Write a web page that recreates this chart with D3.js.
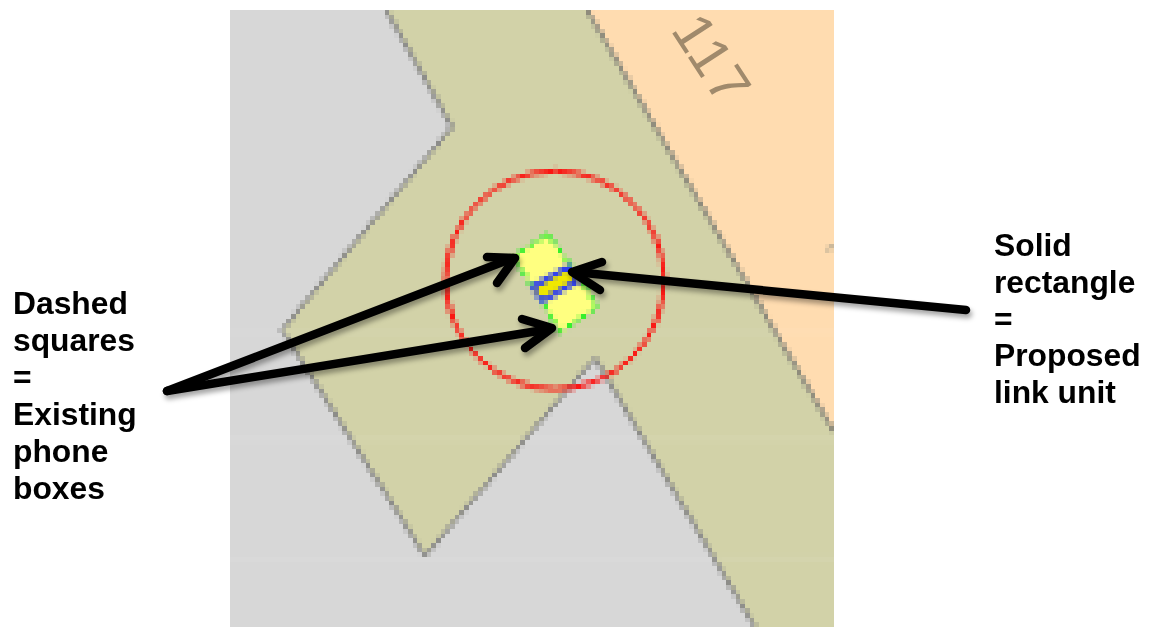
<!DOCTYPE html>
<html>
<head>
<meta charset="utf-8">
<script src="https://cdn.jsdelivr.net/npm/d3@7"></script>
<style>
  html, body { margin: 0; background: #fff; }
  #chart { position: relative; width: 1155px; height: 627px; overflow: hidden; }
  #map { position: absolute; left: 230px; top: 10px; width: 604px; height: 617px; image-rendering: pixelated; }
  svg { position: absolute; left: 0; top: 0; }
</style>
</head>
<body>
<div id="chart">
  <canvas id="map"></canvas>
</div>
<script>
// map shapes, in picture units
const roadArea = [[386,10],[587,10],[834,432],[834,627],[755,627],[595,358],[425,556],[282,330],[452,127]]
const plotArea = [[587,10],[834,10],[834,432]]
const roadEdgeWest = [[386,10],[452,127],[282,330],[425,556],[595,358],[755,627]]
const roadEdgeEast = [[587,10],[834,432]]
const nearbyMark = [[826,250],[834,246]]
const searchCircle = {x: 555, y: 280, r: 109}
const boxTop = [[548,234],[513,257],[535,291],[571,266]]
const boxBottom = [[540,297],[577,272],[597,307],[560,332]]
const linkUnit = [[568,267],[577,281],[543,301],[533,287]]
const faintBands = [330, 437, 556]

const labelLeft = ['Dashed', 'squares', '=', 'Existing', 'phone', 'boxes']
const labelRight = ['Solid', 'rectangle', '=', 'Proposed', 'link unit']

const arrows = [
  {shaft: [[167,391],[513,258]], head: [[487,257],[515,258],[497,283]]},
  {shaft: [[167,391],[550,329]], head: [[522,319],[552,328],[525,348]]},
  {shaft: [[966,310],[574,272]], head: [[602,262],[572,272],[600,290]]}
]

const cell = 4.67
const width = 1155, height = 627
const cols = Math.round(604 / cell), rows = Math.round(617 / cell)

// the map is a low-res picture blown up, so draw it small
const canvas = document.getElementById('map')
canvas.width = cols
canvas.height = rows
const ctx = canvas.getContext('2d')
const sx = d3.scaleLinear().domain([230, 834]).range([0, cols])
const sy = d3.scaleLinear().domain([10, 627]).range([0, rows])
const cellLine = d3.line().x(d => sx(d[0])).y(d => sy(d[1])).context(ctx)

ctx.fillStyle = '#d7d7d7'
ctx.fillRect(0, 0, cols, rows)

function area(points, fill) {
  ctx.beginPath()
  cellLine(points)
  ctx.closePath()
  ctx.fillStyle = fill
  ctx.fill()
}

function edge(points, stroke, lw, dash, closed) {
  ctx.beginPath()
  cellLine(points)
  if(closed) ctx.closePath()
  ctx.strokeStyle = stroke
  ctx.lineWidth = lw
  ctx.setLineDash(dash || [])
  ctx.stroke()
  ctx.setLineDash([])
}

area(roadArea, '#d2d2a8')
area(plotArea, '#ffdcb0')
edge(roadEdgeWest, '#808080', 0.85)
edge(roadEdgeEast, '#7c7c70', 0.85)
edge(nearbyMark, '#a09a88', 0.7)

faintBands.forEach(b => {
  ctx.fillStyle = 'rgba(255,255,255,0.08)'
  ctx.fillRect(0, sy(b), cols, 1)
})

ctx.beginPath()
ctx.arc(sx(searchCircle.x), sy(searchCircle.y), searchCircle.r / cell, 0, 2 * Math.PI)
ctx.strokeStyle = '#ff0000'
ctx.lineWidth = 0.9
ctx.stroke()

area(boxTop, '#ffff80')
edge(boxTop, '#20f020', 0.9, [2, 1], true)
area(boxBottom, '#ffff80')
edge(boxBottom, '#20f020', 0.9, [2, 1], true)

// link unit: blue outline round a yellow core
area(linkUnit, '#f0e800')
edge(linkUnit, '#3040f0', 1.2, null, true)
const coreLine = [
  [d3.mean([linkUnit[0][0], linkUnit[1][0]]), d3.mean([linkUnit[0][1], linkUnit[1][1]])],
  [d3.mean([linkUnit[2][0], linkUnit[3][0]]), d3.mean([linkUnit[2][1], linkUnit[3][1]])]
]
edge(coreLine, '#f0e800', 1.3)

// annotations on top
const svg = d3.select('#chart').append('svg')
  .attr('width', width)
  .attr('height', height)

const filter = svg.append('defs').append('filter')
  .attr('id', 'shadow')
  .attr('x', '-20%').attr('y', '-20%')
  .attr('width', '140%').attr('height', '140%')
filter.append('feDropShadow')
  .attr('dx', 2).attr('dy', 4)
  .attr('stdDeviation', 2.5)
  .attr('flood-color', '#000')
  .attr('flood-opacity', 0.35)

svg.append('text')
  .attr('transform', 'translate(670,30) rotate(57)')
  .attr('font-family', '"Liberation Sans", Arial, sans-serif')
  .attr('font-size', 56)
  .attr('fill', '#a08a6c')
  .attr('letter-spacing', 2)
  .text('117')

const line = d3.line()
const arrowG = svg.append('g')
  .attr('fill', 'none')
  .attr('stroke', '#000')
  .attr('stroke-width', 8.5)
  .attr('stroke-linecap', 'round')
  .attr('stroke-linejoin', 'round')
  .attr('filter', 'url(#shadow)')

arrowG.selectAll('.shaft')
  .data(arrows)
  .enter().append('path')
  .attr('class', 'shaft')
  .attr('d', d => line(d.shaft))
arrowG.selectAll('.head')
  .data(arrows)
  .enter().append('path')
  .attr('class', 'head')
  .attr('d', d => line(d.head))

function addLabel(lines, x, firstY, lineGap) {
  svg.append('g').selectAll('text')
    .data(lines)
    .enter().append('text')
    .attr('x', x)
    .attr('y', (d, i) => firstY + i * lineGap)
    .attr('font-family', '"Liberation Sans", Arial, sans-serif')
    .attr('font-weight', 'bold')
    .attr('font-size', 31.8)
    .attr('fill', '#000')
    .text(d => d)
}
addLabel(labelLeft, 13, 314, 37)
addLabel(labelRight, 994, 256, 36.8)
</script>
</body>
</html>
